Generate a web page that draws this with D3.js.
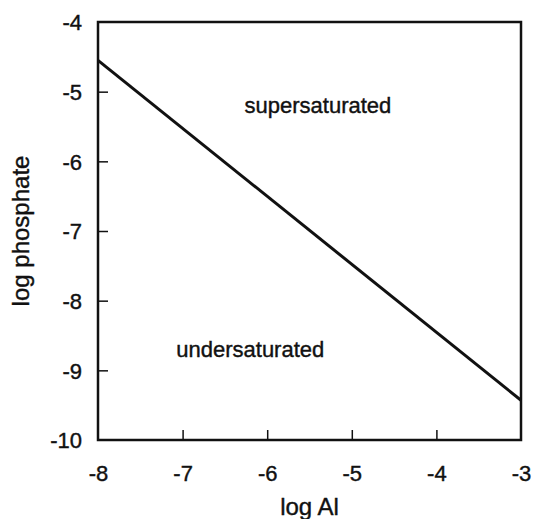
<!DOCTYPE html>
<html>
<head>
<meta charset="utf-8">
<script src="https://cdn.jsdelivr.net/npm/d3@7"></script>
<style>
  body { margin: 0; background: #fff; }
  text { font-family: "Liberation Sans", Arial, Helvetica, sans-serif; fill: #111; stroke: #111; stroke-width: 0.4px; }
</style>
</head>
<body>
<div id="chart"></div>
<script>
var svgWidth = 535;
var svgHeight = 519;

// data
var logAl = [-8, -3];
var logPhosphate = [-4.55, -9.43];
var xTicks = [-8, -7, -6, -5, -4, -3];
var yTicks = [-4, -5, -6, -7, -8, -9, -10];
var regionLabels = ["supersaturated", "undersaturated"];
var regionX = [-5.4, -6.2];
var regionY = [-5.31, -8.81];

var margin = {top: 22, right: 14, bottom: 79, left: 98},
  width = svgWidth - margin.left - margin.right,
  height = svgHeight - margin.top - margin.bottom;

var svg = d3.select("#chart")
  .append("svg")
  .attr("width", svgWidth)
  .attr("height", svgHeight);

var chartGroup = svg.append("g")
  .attr("transform", `translate(${margin.left}, ${margin.top})`);

var x = d3.scaleLinear().domain([-8, -3]).range([0, width]);
var y = d3.scaleLinear().domain([-10, -4]).range([height, 0]);

// frame
chartGroup.append("rect")
  .attr("x", 0)
  .attr("y", 0)
  .attr("width", width)
  .attr("height", height)
  .attr("fill", "none")
  .attr("stroke", "#111")
  .attr("stroke-width", 2.5);

// plain hyphen minus, like the original
var fmt = d => String(d);

// bottom and left axes, ticks pointing in
var xAxis = chartGroup.append("g")
  .attr("transform", `translate(0, ${height})`)
  .call(d3.axisBottom(x).tickValues(xTicks).tickSize(-10).tickPadding(25).tickFormat(fmt));

var yAxis = chartGroup.append("g")
  .call(d3.axisLeft(y).tickValues(yTicks).tickSize(-10).tickPadding(16).tickFormat(fmt));

[xAxis, yAxis].forEach(function(a) {
  a.select(".domain").remove();
  a.selectAll(".tick line").attr("stroke", "#111").attr("stroke-width", 1.5);
  a.selectAll(".tick text")
    .attr("font-size", "22px")
    .style("font-family", "'Liberation Sans', Arial, sans-serif")
    .attr("fill", "#111");
});
// no tick marks at the frame corners
xAxis.selectAll(".tick line").filter(d => d === -8 || d === -3).remove();
yAxis.selectAll(".tick line").filter(d => d === -4 || d === -10).remove();
yAxis.selectAll(".tick text").attr("dy", "0.36em");

// saturation line
var line = d3.line()
  .x(d => x(d[0]))
  .y(d => y(d[1]));

chartGroup.append("path")
  .datum(d3.zip(logAl, logPhosphate))
  .attr("d", line)
  .attr("fill", "none")
  .attr("stroke", "#111")
  .attr("stroke-width", 3);

// region labels
chartGroup.append("g")
  .selectAll("text")
  .data(regionLabels)
  .enter()
  .append("text")
  .attr("x", (d, i) => x(regionX[i]))
  .attr("y", (d, i) => y(regionY[i]))
  .attr("text-anchor", "middle")
  .attr("font-size", "22px")
  .text(d => d);

// axis titles
chartGroup.append("text")
  .attr("x", width / 2)
  .attr("y", height + 75)
  .attr("text-anchor", "middle")
  .attr("font-size", "24px")
  .text("log Al");

chartGroup.append("text")
  .attr("transform", "rotate(-90)")
  .attr("x", 0 - (height / 2))
  .attr("y", 0 - margin.left + 29)
  .attr("text-anchor", "middle")
  .attr("font-size", "24px")
  .text("log phosphate");
</script>
</body>
</html>
